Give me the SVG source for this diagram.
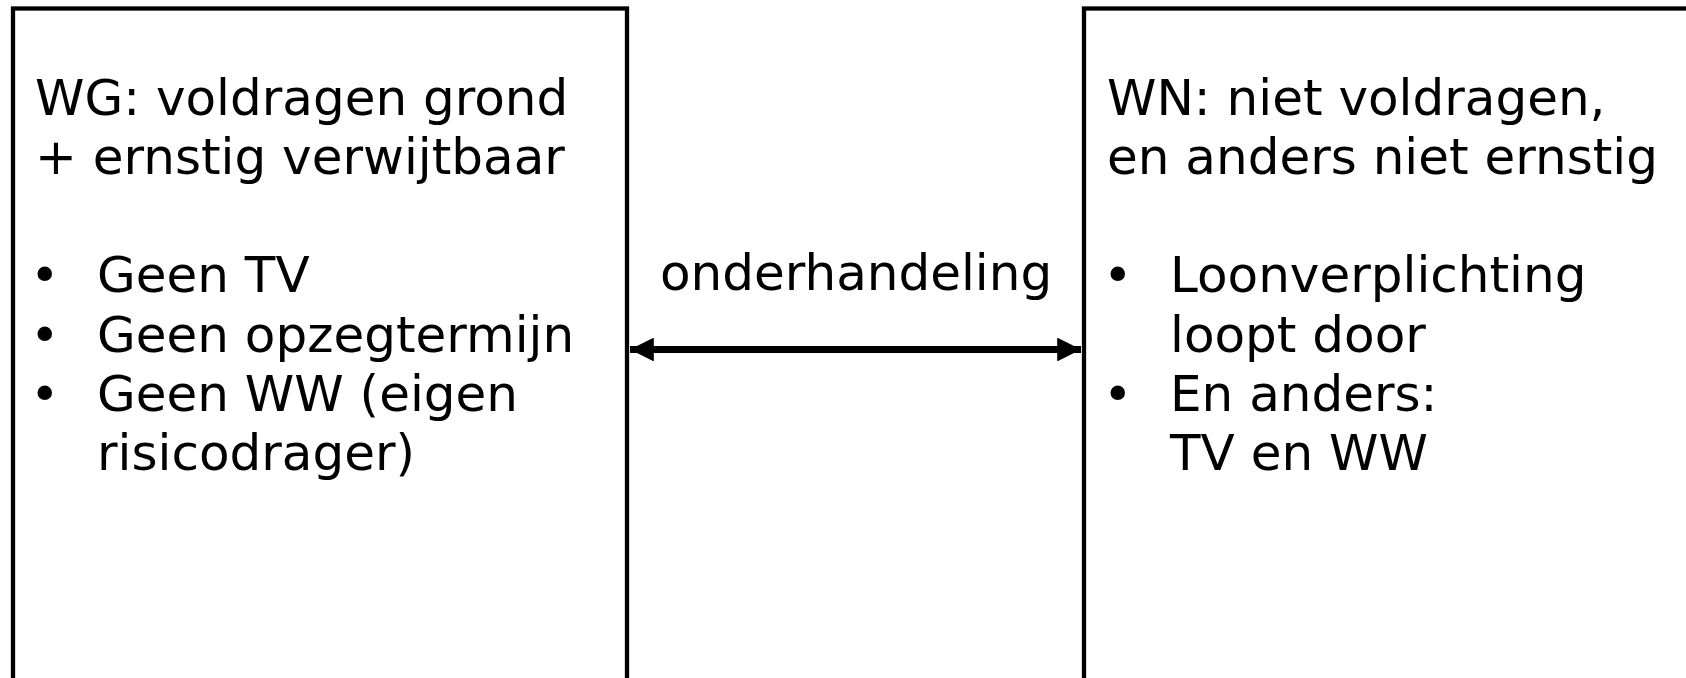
<svg xmlns="http://www.w3.org/2000/svg" width="1686" height="678" viewBox="0 0 1686 678">
<style>
.box{fill:#fff;stroke:#000;stroke-width:4.3}
.t{font-family:"DejaVu Sans",Verdana,sans-serif;font-size:50px;fill:#000}
.b{font-family:"DejaVu Sans",Verdana,sans-serif;font-size:50px;fill:#000}
.conn{stroke:#000;stroke-width:7;fill:none}
</style>
<defs>
<marker id="ah" viewBox="0 0 10 10" refX="10" refY="5" markerWidth="3.4" markerHeight="3.4" orient="auto-start-reverse" markerUnits="strokeWidth">
<path d="M0,0 L10,5 L0,10 z" fill="#000"/>
</marker>
</defs>
<rect width="1686" height="678" fill="#fff"/>
<g id="node-wg">
<rect class="box" x="13" y="8.5" width="614" height="720"/>
<text class="t" x="35" y="115">WG: voldragen grond</text>
<text class="t" x="35" y="174">+ ernstig verwijtbaar</text>
<text class="b" x="30" y="292">•</text><text class="t" x="97" y="292">Geen TV</text>
<text class="b" x="30" y="352">•</text><text class="t" x="97" y="352">Geen opzegtermijn</text>
<text class="b" x="30" y="411">•</text><text class="t" x="97" y="411">Geen WW (eigen</text>
<text class="t" x="97" y="470">risicodrager)</text>
</g>
<g id="node-wn">
<rect class="box" x="1084" y="8.5" width="700" height="720"/>
<text class="t" x="1107" y="115">WN: niet voldragen,</text>
<text class="t" x="1107" y="174">en anders niet ernstig</text>
<text class="b" x="1103" y="292">•</text><text class="t" x="1170" y="292">Loonverplichting</text>
<text class="t" x="1170" y="352">loopt door</text>
<text class="b" x="1103" y="411">•</text><text class="t" x="1170" y="411">En anders:</text>
<text class="t" x="1170" y="470">TV en WW</text>
</g>
<g id="connectors">
<line class="conn" x1="630" y1="349.5" x2="1081" y2="349.5" marker-start="url(#ah)" marker-end="url(#ah)"/>
<text class="t" x="660" y="290">onderhandeling</text>
</g>
</svg>
